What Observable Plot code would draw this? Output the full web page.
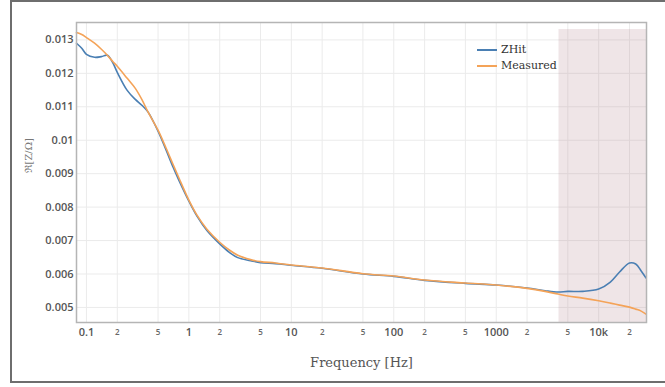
<!DOCTYPE html>
<html>
<head>
<meta charset="utf-8">
<script src="https://cdn.jsdelivr.net/npm/d3@7"></script>
<script src="https://cdn.jsdelivr.net/npm/@observablehq/plot@0.6"></script>
<style>
  html, body { margin: 0; padding: 0; background: #fff; }
  #wrap { position: relative; width: 665px; height: 387px; overflow: hidden; }
  #border { position: absolute; left: 10px; top: 0px; width: 670px; height: 383px; border: 2px solid #6e6e6e; box-sizing: border-box; }
  #legend { position: absolute; left: 477px; top: 42px; font-family: "DejaVu Serif", "Liberation Serif", serif; font-size: 11px; color: #333; line-height: 16px; }
  #legend .row { display: flex; align-items: center; }
  #legend .sw { width: 20px; height: 2px; margin-right: 4px; }
</style>
</head>
<body>
<div id="wrap"><div id="border"></div><div id="chart"></div>
<div id="legend">
  <div class="row"><span class="sw" style="background:#4a7fb3"></span>ZHit</div>
  <div class="row"><span class="sw" style="background:#f4a358"></span>Measured</div>
</div>
</div>
<script>
const freq = [0.08, 0.09, 0.1, 0.12, 0.14, 0.16, 0.18, 0.2, 0.25, 0.3, 0.35, 0.4, 0.5, 0.6, 0.7, 0.8,
  1, 1.2, 1.5, 2, 2.5, 3, 4, 5, 7, 10, 20, 50, 100, 200, 500, 1000, 2000, 3000, 4000, 5000, 7000,
  10000, 13000, 16000, 20000, 23000, 26000, 29000];
const zhit = [0.0129, 0.01275, 0.01257, 0.01248, 0.0125, 0.01254, 0.01233, 0.01203, 0.01149, 0.01122,
  0.01104, 0.01084, 0.01027, 0.0097, 0.0092, 0.0088, 0.00818, 0.00773, 0.0073, 0.0069, 0.00664, 0.00649,
  0.0064, 0.00634, 0.00631, 0.00626, 0.00617, 0.006, 0.00593, 0.00581, 0.00572, 0.00567, 0.00558,
  0.0055, 0.00546, 0.00548, 0.00548, 0.00555, 0.00576, 0.00606, 0.00633, 0.0063, 0.00609, 0.00588];
const measured = [0.01322, 0.01316, 0.01307, 0.0129, 0.01272, 0.01254, 0.01236, 0.01221, 0.01185, 0.01155,
  0.0112, 0.01084, 0.0103, 0.00976, 0.00928, 0.00887, 0.00821, 0.00776, 0.00734, 0.00695, 0.00671, 0.00656,
  0.00643, 0.00637, 0.00633, 0.00627, 0.00618, 0.00601, 0.00594, 0.00582, 0.00573, 0.00567, 0.00557,
  0.00548, 0.0054, 0.00534, 0.00528, 0.0052, 0.00513, 0.00507, 0.00501, 0.00495, 0.00489, 0.0048];

const majorTicks = [0.1, 1, 10, 100, 1000, 10000];
const majorLabels = ["0.1", "1", "10", "100", "1000", "10k"];
const minorTicks = [0.2, 0.5, 2, 5, 20, 50, 200, 500, 2000, 5000, 20000];
const minorLabels = ["2", "5", "2", "5", "2", "5", "2", "5", "2", "5", "2"];
const yTicks = [0.005, 0.006, 0.007, 0.008, 0.009, 0.01, 0.011, 0.012, 0.013];
const shadeFrom = 4100, shadeTo = 29300, shadeTop = 0.01331;
const xDomain = [0.08, 29300], yDomain = [0.00455, 0.01352];

const rows = [];
freq.forEach((f, i) => {
  rows.push({f, v: zhit[i], s: "ZHit"});
  rows.push({f, v: measured[i], s: "Measured"});
});
const allTicks = majorTicks.concat(minorTicks);
const majorMap = new Map(majorTicks.map((t, i) => [t, majorLabels[i]]));
const minorMap = new Map(minorTicks.map((t, i) => [t, minorLabels[i]]));

const chart = Plot.plot({
  width: 665, height: 387,
  marginLeft: 76, marginRight: 19, marginTop: 22, marginBottom: 65,
  style: {fontFamily: "'Open Sans', sans-serif", color: "#555", background: "transparent"},
  x: {type: "log", domain: xDomain, axis: null},
  y: {domain: yDomain},
  marks: [
    Plot.gridX(allTicks, {stroke: "#ebebeb", strokeOpacity: 1}),
    Plot.gridY(yTicks, {stroke: "#ebebeb", strokeOpacity: 1}),
    Plot.rect([{x1: shadeFrom, x2: shadeTo, y1: yDomain[0], y2: shadeTop}],
      {x1: "x1", x2: "x2", y1: "y1", y2: "y2", fill: "#b48a90", fillOpacity: 0.22}),
    Plot.line(rows, {x: "f", y: "v", z: "s",
      stroke: d => d.s === "ZHit" ? "#4a7fb3" : "#f4a358", strokeWidth: 1.6, curve: "catmull-rom"}),
    Plot.frame({stroke: "#b5b5b5", strokeWidth: 1.5}),
    Plot.text(majorTicks, {x: d => d, frameAnchor: "bottom", dy: 13, text: d => majorMap.get(d),
      fontSize: 11, fontWeight: 600, fill: "#555"}),
    Plot.text(minorTicks, {x: d => d, frameAnchor: "bottom", dy: 12, text: d => minorMap.get(d),
      fontSize: 8, fontWeight: 600, fill: "#666"}),
    Plot.axisY(yTicks, {tickSize: 0, tickPadding: 3, fontSize: 11, fontWeight: 600,
      tickFormat: d => String(+d.toFixed(3)), label: null}),
    Plot.text(["Frequency [Hz]"], {frameAnchor: "bottom", dy: 44, fontSize: 13,
      fontFamily: "'DejaVu Serif', serif", fill: "#555"}),
    Plot.text(["ℜ[Z/Ω]"], {frameAnchor: "left", dx: -48, rotate: -90, fontSize: 10,
      fontFamily: "'DejaVu Serif', serif", fill: "#777"})
  ]
});
document.getElementById("chart").appendChild(chart);
</script>
</body>
</html>
